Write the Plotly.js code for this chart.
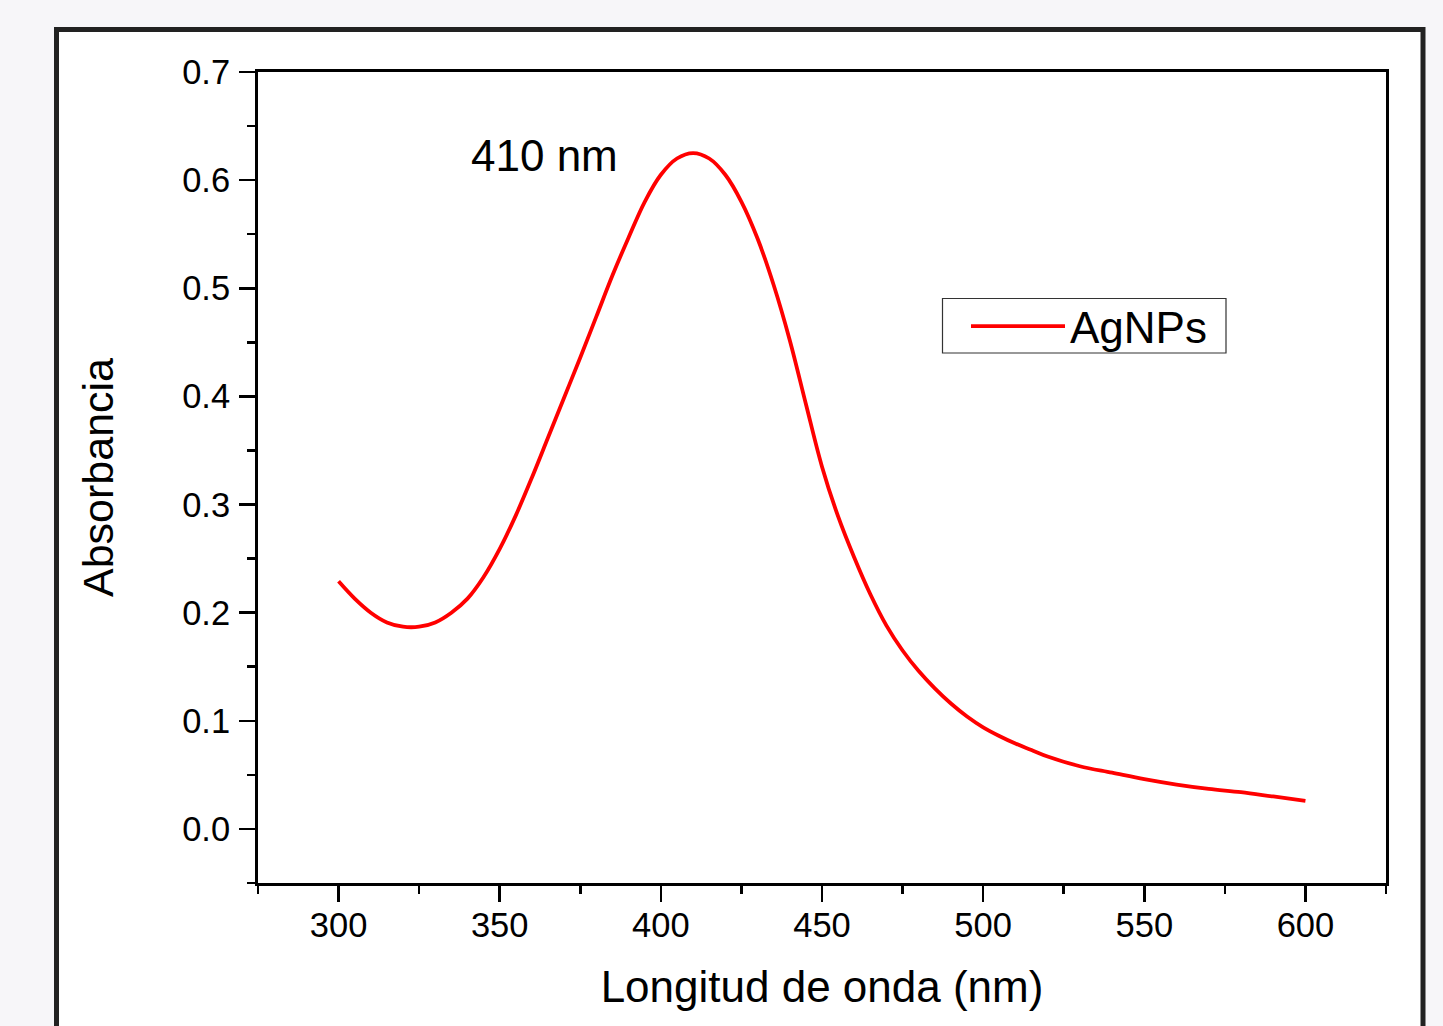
<!DOCTYPE html>
<html>
<head>
<meta charset="utf-8">
<script src="https://cdn.plot.ly/plotly-3.0.1.min.js"></script>
<style>
  html, body { margin: 0; padding: 0; background: #f7f6f9; }
  #chart { width: 1443px; height: 1026px; }
</style>
</head>
<body>
<div id="chart"></div>
<script>
// ---- data ----
const wavelength = [300, 305, 310, 315, 320, 325, 330, 335, 340, 345, 350, 355, 360, 365, 370, 375, 380, 385, 390, 395,
  400, 405, 410, 415, 420, 425, 430, 435, 440, 445, 450, 455, 460, 465, 470, 475, 480, 485, 490, 495,
  500, 505, 510, 515, 520, 530, 540, 550, 560, 570, 580, 590, 600];
const absorbance = [0.229, 0.213, 0.200, 0.191, 0.187, 0.187, 0.191, 0.200, 0.213, 0.233, 0.259, 0.290, 0.325, 0.362, 0.399, 0.436, 0.474, 0.512, 0.547, 0.580,
  0.605, 0.620, 0.625, 0.620, 0.605, 0.580, 0.546, 0.503, 0.452, 0.393, 0.335, 0.289, 0.251, 0.217, 0.188, 0.165, 0.146, 0.130, 0.116, 0.104,
  0.094, 0.086, 0.079, 0.073, 0.067, 0.058, 0.052, 0.046, 0.041, 0.037, 0.034, 0.030, 0.026];
const seriesName = 'AgNPs';
const xTicks = [300, 350, 400, 450, 500, 550, 600];
const yTicks = [0.0, 0.1, 0.2, 0.3, 0.4, 0.5, 0.6, 0.7];
const xTitle = 'Longitud de onda (nm)';
const yTitle = 'Absorbancia';
const peakLabel = { x: 364, y: 0.623, text: '410 nm' };

// ---- layout geometry ----
const W = 1443, H = 1026;
const M = { l: 258, r: 57, t: 72, b: 143 };
const pw = W - M.l - M.r, ph = H - M.t - M.b;
const px2x = p => (p - M.l) / pw;
const px2y = p => (H - M.b - p) / ph;

const FONT = 'Liberation Sans, Arial, Helvetica, sans-serif';

const trace = {
  x: wavelength, y: absorbance, name: seriesName,
  type: 'scatter', mode: 'lines',
  line: { color: '#ff0000', width: 3.8, shape: 'spline', smoothing: 1 }
};

const axisCommon = {
  showgrid: false, zeroline: false,
  showline: true, linecolor: '#000', linewidth: 3, mirror: true,
  ticks: 'outside', ticklen: 16, tickwidth: 2.5, tickcolor: '#000',
  tickfont: { family: FONT, size: 34.5, color: '#000' }
};

const layout = {
  width: W, height: H,
  margin: M,
  paper_bgcolor: '#f7f6f9',
  plot_bgcolor: '#ffffff',
  showlegend: true,
  legend: {
    x: px2x(966), y: px2y(291), xanchor: 'left', yanchor: 'top',
    bgcolor: 'rgba(0,0,0,0)', borderwidth: 0,
    font: { family: FONT, size: 44, color: '#000' },
    itemwidth: 94
  },
  xaxis: Object.assign({}, axisCommon, {
    range: [275, 625],
    tickmode: 'array', tickvals: xTicks, ticktext: xTicks.map(String),
    ticklabelstandoff: -6,
    minor: { dtick: 25, tick0: 275, ticks: 'outside', ticklen: 8, tickwidth: 2.5, tickcolor: '#000', showgrid: false },
    title: { text: xTitle, font: { family: FONT, size: 44, color: '#000' }, standoff: 28 }
  }),
  yaxis: Object.assign({}, axisCommon, {
    range: [-0.05, 0.7],
    tickmode: 'array', tickvals: yTicks, ticktext: yTicks.map(v => v.toFixed(1)),
    ticklabelstandoff: 2,
    minor: { dtick: 0.05, tick0: 0, ticks: 'outside', ticklen: 8, tickwidth: 2.5, tickcolor: '#000', showgrid: false },
    title: { text: yTitle, font: { family: FONT, size: 43, color: '#000' }, standoff: 56 }
  }),
  annotations: [{
    x: peakLabel.x, y: peakLabel.y, xref: 'x', yref: 'y',
    text: peakLabel.text, showarrow: false,
    font: { family: FONT, size: 44, color: '#000' }
  }],
  shapes: [{
    type: 'rect', layer: 'below', xref: 'paper', yref: 'paper',
    x0: px2x(56.5), x1: px2x(1423), y0: px2y(1060), y1: px2y(29.5),
    fillcolor: '#ffffff', line: { color: '#222222', width: 5 }
  }, {
    // legend frame
    type: 'rect', layer: 'above', xref: 'paper', yref: 'paper',
    x0: px2x(942.5), x1: px2x(1226), y0: px2y(353), y1: px2y(298.5),
    fillcolor: '#ffffff', line: { color: '#333333', width: 1.2 }
  }]
};

Plotly.newPlot('chart', [trace], layout, { displayModeBar: false, staticPlot: true });
</script>
</body>
</html>
